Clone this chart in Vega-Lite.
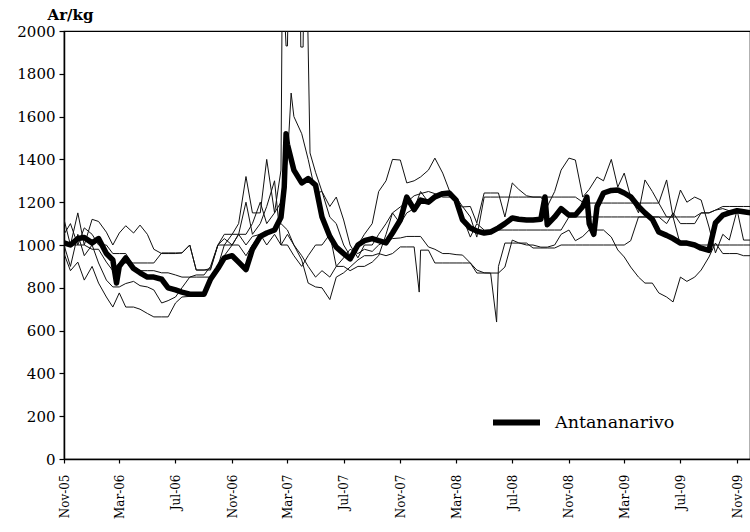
{
"$schema": "https://vega.github.io/schema/vega-lite/v6.json",
"width": 686, "height": 428,
"autosize": {"type": "none"},
"padding": {"left": 64, "top": 31, "right": 0, "bottom": 73},
"background": "white",
"config": {
 "font": "DejaVu Serif",
 "view": {"stroke": "black", "strokeWidth": 1.2},
 "axis": {"grid": false, "domainColor": "black", "domainWidth": 1.5, "tickColor": "black", "tickWidth": 1.2, "labelColor": "black", "titleColor": "black", "labelFont": "DejaVu Serif", "titleFont": "DejaVu Serif"},
 "legend": {"labelFont": "DejaVu Serif"}
},
"datasets": {
"main": [
{"d":"2005-11-01","v":1010},{"d":"2005-11-15","v":1000},{"d":"2005-12-01","v":1030},{"d":"2005-12-15","v":1035},
{"d":"2006-01-01","v":1010},{"d":"2006-01-15","v":1030},{"d":"2006-02-01","v":960},{"d":"2006-02-15","v":930},{"d":"2006-02-23","v":822},
{"d":"2006-03-01","v":900},{"d":"2006-03-15","v":940},{"d":"2006-04-01","v":890},{"d":"2006-04-15","v":870},{"d":"2006-05-01","v":850},{"d":"2006-05-15","v":850},
{"d":"2006-06-01","v":840},{"d":"2006-06-15","v":800},{"d":"2006-07-01","v":790},{"d":"2006-07-15","v":780},{"d":"2006-08-01","v":770},{"d":"2006-08-15","v":770},
{"d":"2006-09-01","v":770},{"d":"2006-09-15","v":840},{"d":"2006-10-01","v":890},{"d":"2006-10-15","v":940},{"d":"2006-11-01","v":950},{"d":"2006-11-15","v":920},
{"d":"2006-12-01","v":885},{"d":"2006-12-15","v":980},{"d":"2007-01-01","v":1040},{"d":"2007-01-15","v":1056},{"d":"2007-02-01","v":1070},{"d":"2007-02-15","v":1130},
{"d":"2007-02-22","v":1270},{"d":"2007-02-26","v":1520},{"d":"2007-03-01","v":1470},{"d":"2007-03-15","v":1350},{"d":"2007-04-01","v":1290},{"d":"2007-04-15","v":1310},
{"d":"2007-05-01","v":1280},{"d":"2007-05-15","v":1131},{"d":"2007-06-01","v":1040},{"d":"2007-06-15","v":990},{"d":"2007-07-01","v":960},{"d":"2007-07-15","v":935},
{"d":"2007-08-01","v":1000},{"d":"2007-08-15","v":1020},{"d":"2007-09-01","v":1030},{"d":"2007-09-15","v":1020},{"d":"2007-10-01","v":1010},{"d":"2007-10-15","v":1056},
{"d":"2007-11-01","v":1117},{"d":"2007-11-15","v":1224},{"d":"2007-12-01","v":1165},{"d":"2007-12-15","v":1210},{"d":"2008-01-01","v":1200},{"d":"2008-01-15","v":1225},
{"d":"2008-02-01","v":1240},{"d":"2008-02-15","v":1243},{"d":"2008-03-01","v":1210},{"d":"2008-03-15","v":1117},{"d":"2008-04-01","v":1079},{"d":"2008-04-15","v":1065},
{"d":"2008-05-01","v":1056},{"d":"2008-05-15","v":1061},{"d":"2008-06-01","v":1080},{"d":"2008-06-15","v":1100},{"d":"2008-07-01","v":1126},{"d":"2008-07-15","v":1120},
{"d":"2008-08-01","v":1117},{"d":"2008-08-15","v":1117},{"d":"2008-09-01","v":1120},{"d":"2008-09-10","v":1224},{"d":"2008-09-15","v":1095},{"d":"2008-10-01","v":1131},
{"d":"2008-10-15","v":1170},{"d":"2008-11-01","v":1140},{"d":"2008-11-15","v":1140},{"d":"2008-12-01","v":1180},{"d":"2008-12-10","v":1224},{"d":"2008-12-15","v":1100},
{"d":"2008-12-25","v":1050},{"d":"2009-01-01","v":1180},{"d":"2009-01-15","v":1243},{"d":"2009-02-01","v":1255},{"d":"2009-02-15","v":1257},{"d":"2009-03-01","v":1243},
{"d":"2009-03-15","v":1225},{"d":"2009-04-01","v":1180},{"d":"2009-04-15","v":1150},{"d":"2009-05-01","v":1120},{"d":"2009-05-15","v":1061},{"d":"2009-06-01","v":1045},
{"d":"2009-06-15","v":1030},{"d":"2009-07-01","v":1009},{"d":"2009-07-15","v":1009},{"d":"2009-08-01","v":1000},{"d":"2009-08-15","v":985},{"d":"2009-09-01","v":975},
{"d":"2009-09-15","v":1103},{"d":"2009-10-01","v":1140},{"d":"2009-10-15","v":1150},{"d":"2009-11-01","v":1160},{"d":"2009-11-15","v":1155},{"d":"2009-12-01","v":1150}
],
"thin": [
{"d":"2005-11-01","s":1,"v":1120},{"d":"2005-11-15","s":1,"v":1000},{"d":"2005-12-01","s":1,"v":1150},{"d":"2005-12-15","s":1,"v":1000},
{"d":"2006-01-01","s":1,"v":1120},{"d":"2006-01-15","s":1,"v":1110},{"d":"2006-02-01","s":1,"v":1060},{"d":"2006-02-15","s":1,"v":1000},
{"d":"2006-03-01","s":1,"v":1056},{"d":"2006-03-15","s":1,"v":1090},{"d":"2006-04-01","s":1,"v":1056},{"d":"2006-04-15","s":1,"v":1093},
{"d":"2006-05-01","s":1,"v":1050},{"d":"2006-05-15","s":1,"v":980},{"d":"2006-06-01","s":1,"v":960},{"d":"2006-06-15","s":1,"v":960},
{"d":"2006-07-01","s":1,"v":960},{"d":"2006-07-15","s":1,"v":963},{"d":"2006-08-01","s":1,"v":1000},{"d":"2006-08-15","s":1,"v":883},
{"d":"2006-09-01","s":1,"v":883},{"d":"2006-09-15","s":1,"v":890},{"d":"2006-10-01","s":1,"v":1000},{"d":"2006-10-15","s":1,"v":1050},
{"d":"2006-11-01","s":1,"v":1050},{"d":"2006-11-15","s":1,"v":1100},{"d":"2006-12-01","s":1,"v":1320},{"d":"2006-12-15","s":1,"v":1150},
{"d":"2007-01-01","s":1,"v":1150},{"d":"2007-01-15","s":1,"v":1400},{"d":"2007-02-01","s":1,"v":1150},{"d":"2007-02-15","s":1,"v":1350},
{"d":"2007-02-18","s":1,"v":2300},{"d":"2007-02-26","s":1,"v":1930},{"d":"2007-03-01","s":1,"v":1930},{"d":"2007-03-04","s":1,"v":2300},
{"d":"2007-03-15","s":1,"v":2300},{"d":"2007-03-28","s":1,"v":2300},{"d":"2007-03-30","s":1,"v":1925},{"d":"2007-04-04","s":1,"v":1925},
{"d":"2007-04-06","s":1,"v":2300},{"d":"2007-04-12","s":1,"v":2300},{"d":"2007-04-19","s":1,"v":1430},{"d":"2007-05-01","s":1,"v":1340},
{"d":"2007-05-15","s":1,"v":1250},{"d":"2007-06-01","s":1,"v":1130},{"d":"2007-06-15","s":1,"v":1100},{"d":"2007-07-01","s":1,"v":1000},
{"d":"2007-07-15","s":1,"v":950},{"d":"2007-08-01","s":1,"v":1000},{"d":"2007-08-15","s":1,"v":1050},{"d":"2007-09-01","s":1,"v":1100},
{"d":"2007-09-15","s":1,"v":1250},{"d":"2007-10-01","s":1,"v":1300},{"d":"2007-10-15","s":1,"v":1400},{"d":"2007-11-01","s":1,"v":1397},
{"d":"2007-11-15","s":1,"v":1290},{"d":"2007-12-01","s":1,"v":1300},{"d":"2007-12-15","s":1,"v":1318},{"d":"2008-01-01","s":1,"v":1350},
{"d":"2008-01-15","s":1,"v":1406},{"d":"2008-02-01","s":1,"v":1336},{"d":"2008-02-15","s":1,"v":1257},{"d":"2008-03-01","s":1,"v":1200},
{"d":"2008-03-15","s":1,"v":1178},{"d":"2008-04-01","s":1,"v":1180},{"d":"2008-04-15","s":1,"v":1103},{"d":"2008-05-01","s":1,"v":1243},
{"d":"2008-05-15","s":1,"v":1243},{"d":"2008-06-01","s":1,"v":1243},{"d":"2008-06-15","s":1,"v":1131},{"d":"2008-07-01","s":1,"v":1290},
{"d":"2008-07-15","s":1,"v":1260},{"d":"2008-08-01","s":1,"v":1230},{"d":"2008-08-15","s":1,"v":1224},{"d":"2008-09-01","s":1,"v":1224},
{"d":"2008-09-15","s":1,"v":1180},{"d":"2008-10-01","s":1,"v":1250},{"d":"2008-10-15","s":1,"v":1350},{"d":"2008-11-01","s":1,"v":1406},
{"d":"2008-11-15","s":1,"v":1397},{"d":"2008-12-01","s":1,"v":1224},{"d":"2008-12-15","s":1,"v":1260},{"d":"2009-01-01","s":1,"v":1318},
{"d":"2009-01-15","s":1,"v":1300},{"d":"2009-02-01","s":1,"v":1400},{"d":"2009-02-15","s":1,"v":1271},{"d":"2009-03-01","s":1,"v":1336},
{"d":"2009-03-15","s":1,"v":1224},{"d":"2009-04-01","s":1,"v":1150},{"d":"2009-04-15","s":1,"v":1304},{"d":"2009-05-01","s":1,"v":1250},
{"d":"2009-05-15","s":1,"v":1196},{"d":"2009-06-01","s":1,"v":1304},{"d":"2009-06-15","s":1,"v":1131},{"d":"2009-07-01","s":1,"v":1257},
{"d":"2009-07-15","s":1,"v":1200},{"d":"2009-08-01","s":1,"v":1224},{"d":"2009-08-15","s":1,"v":1210},{"d":"2009-09-01","s":1,"v":1084},
{"d":"2009-09-15","s":1,"v":963},{"d":"2009-10-01","s":1,"v":1050},{"d":"2009-10-15","s":1,"v":1023},{"d":"2009-11-01","s":1,"v":1163},
{"d":"2009-11-15","s":1,"v":1023},{"d":"2009-12-01","s":1,"v":1023},

{"d":"2005-11-01","s":2,"v":1000},{"d":"2005-11-15","s":2,"v":900},{"d":"2005-12-01","s":2,"v":1050},{"d":"2005-12-15","s":2,"v":950},
{"d":"2006-01-01","s":2,"v":1000},{"d":"2006-01-15","s":2,"v":916},{"d":"2006-02-01","s":2,"v":836},{"d":"2006-02-15","s":2,"v":804},
{"d":"2006-03-01","s":2,"v":804},{"d":"2006-03-15","s":2,"v":820},{"d":"2006-04-01","s":2,"v":830},{"d":"2006-04-15","s":2,"v":810},
{"d":"2006-05-01","s":2,"v":804},{"d":"2006-05-15","s":2,"v":790},{"d":"2006-06-01","s":2,"v":729},{"d":"2006-06-15","s":2,"v":740},
{"d":"2006-07-01","s":2,"v":757},{"d":"2006-07-15","s":2,"v":800},{"d":"2006-08-01","s":2,"v":850},{"d":"2006-08-15","s":2,"v":860},
{"d":"2006-09-01","s":2,"v":860},{"d":"2006-09-15","s":2,"v":900},{"d":"2006-10-01","s":2,"v":1000},{"d":"2006-10-15","s":2,"v":1030},
{"d":"2006-11-01","s":2,"v":1000},{"d":"2006-11-15","s":2,"v":1050},{"d":"2006-12-01","s":2,"v":1050},{"d":"2006-12-15","s":2,"v":1100},
{"d":"2007-01-01","s":2,"v":1200},{"d":"2007-01-15","s":2,"v":1100},{"d":"2007-02-01","s":2,"v":1150},{"d":"2007-02-15","s":2,"v":1200},
{"d":"2007-03-01","s":2,"v":1400},{"d":"2007-03-09","s":2,"v":1710},{"d":"2007-03-15","s":2,"v":1600},{"d":"2007-04-01","s":2,"v":1520},
{"d":"2007-04-15","s":2,"v":1400},{"d":"2007-05-01","s":2,"v":1243},{"d":"2007-05-15","s":2,"v":1250},{"d":"2007-06-01","s":2,"v":1180},
{"d":"2007-06-15","s":2,"v":1224},{"d":"2007-07-01","s":2,"v":1117},{"d":"2007-07-15","s":2,"v":1000},{"d":"2007-08-01","s":2,"v":940},
{"d":"2007-08-15","s":2,"v":1000},{"d":"2007-09-01","s":2,"v":1000},{"d":"2007-09-15","s":2,"v":1050},{"d":"2007-10-01","s":2,"v":1100},
{"d":"2007-10-15","s":2,"v":1150},{"d":"2007-11-01","s":2,"v":1178},{"d":"2007-11-15","s":2,"v":1200},{"d":"2007-12-01","s":2,"v":1230},
{"d":"2007-12-15","s":2,"v":1240},{"d":"2008-01-01","s":2,"v":1250},{"d":"2008-01-15","s":2,"v":1240},{"d":"2008-02-01","s":2,"v":1224},
{"d":"2008-02-15","s":2,"v":1224},{"d":"2008-03-01","s":2,"v":1224},{"d":"2008-03-15","s":2,"v":1180},{"d":"2008-04-01","s":2,"v":1131},
{"d":"2008-04-15","s":2,"v":1037},{"d":"2008-05-01","s":2,"v":1224},{"d":"2008-05-15","s":2,"v":1224},{"d":"2008-06-01","s":2,"v":1224},
{"d":"2008-06-15","s":2,"v":1224},{"d":"2008-07-01","s":2,"v":1224},{"d":"2008-07-15","s":2,"v":1224},{"d":"2008-08-01","s":2,"v":1224},
{"d":"2008-08-15","s":2,"v":1224},{"d":"2008-09-01","s":2,"v":1224},{"d":"2008-09-15","s":2,"v":1224},{"d":"2008-10-01","s":2,"v":1224},
{"d":"2008-10-15","s":2,"v":1224},{"d":"2008-11-01","s":2,"v":1224},{"d":"2008-11-15","s":2,"v":1224},{"d":"2008-12-01","s":2,"v":1200},
{"d":"2008-12-15","s":2,"v":1196},{"d":"2009-01-01","s":2,"v":1196},{"d":"2009-01-15","s":2,"v":1196},{"d":"2009-02-01","s":2,"v":1196},
{"d":"2009-02-15","s":2,"v":1196},{"d":"2009-03-01","s":2,"v":1196},{"d":"2009-03-15","s":2,"v":1196},{"d":"2009-04-01","s":2,"v":1196},
{"d":"2009-04-15","s":2,"v":1196},{"d":"2009-05-01","s":2,"v":1196},{"d":"2009-05-15","s":2,"v":1196},{"d":"2009-06-01","s":2,"v":1131},
{"d":"2009-06-15","s":2,"v":1131},{"d":"2009-07-01","s":2,"v":1131},{"d":"2009-07-15","s":2,"v":1131},{"d":"2009-08-01","s":2,"v":1131},
{"d":"2009-08-15","s":2,"v":1150},{"d":"2009-09-01","s":2,"v":1150},{"d":"2009-09-15","s":2,"v":1163},{"d":"2009-10-01","s":2,"v":1180},
{"d":"2009-10-15","s":2,"v":1180},{"d":"2009-11-01","s":2,"v":1180},{"d":"2009-11-15","s":2,"v":1180},{"d":"2009-12-01","s":2,"v":1180},

{"d":"2005-11-01","s":3,"v":960},{"d":"2005-11-15","s":3,"v":880},{"d":"2005-12-01","s":3,"v":920},{"d":"2005-12-15","s":3,"v":836},
{"d":"2006-01-01","s":3,"v":900},{"d":"2006-01-15","s":3,"v":822},{"d":"2006-02-01","s":3,"v":757},{"d":"2006-02-15","s":3,"v":710},
{"d":"2006-03-01","s":3,"v":776},{"d":"2006-03-15","s":3,"v":710},{"d":"2006-04-01","s":3,"v":710},{"d":"2006-04-15","s":3,"v":700},
{"d":"2006-05-01","s":3,"v":680},{"d":"2006-05-15","s":3,"v":664},{"d":"2006-06-01","s":3,"v":664},{"d":"2006-06-15","s":3,"v":664},
{"d":"2006-07-01","s":3,"v":729},{"d":"2006-07-15","s":3,"v":757},{"d":"2006-08-01","s":3,"v":760},{"d":"2006-08-15","s":3,"v":770},
{"d":"2006-09-01","s":3,"v":780},{"d":"2006-09-15","s":3,"v":820},{"d":"2006-10-01","s":3,"v":900},{"d":"2006-10-15","s":3,"v":950},
{"d":"2006-11-01","s":3,"v":1000},{"d":"2006-11-15","s":3,"v":1050},{"d":"2006-12-01","s":3,"v":1000},{"d":"2006-12-15","s":3,"v":1040},
{"d":"2007-01-01","s":3,"v":1050},{"d":"2007-01-15","s":3,"v":1056},{"d":"2007-02-01","s":3,"v":1080},{"d":"2007-02-15","s":3,"v":1100},
{"d":"2007-03-01","s":3,"v":1070},{"d":"2007-03-15","s":3,"v":1000},{"d":"2007-04-01","s":3,"v":930},{"d":"2007-04-15","s":3,"v":822},
{"d":"2007-05-01","s":3,"v":804},{"d":"2007-05-15","s":3,"v":800},{"d":"2007-06-01","s":3,"v":745},{"d":"2007-06-15","s":3,"v":850},
{"d":"2007-07-01","s":3,"v":870},{"d":"2007-07-15","s":3,"v":897},{"d":"2007-08-01","s":3,"v":930},{"d":"2007-08-15","s":3,"v":950},
{"d":"2007-09-01","s":3,"v":950},{"d":"2007-09-15","s":3,"v":960},{"d":"2007-10-01","s":3,"v":950},{"d":"2007-10-15","s":3,"v":960},
{"d":"2007-11-01","s":3,"v":991},{"d":"2007-11-15","s":3,"v":991},{"d":"2007-12-01","s":3,"v":991},{"d":"2007-12-12","s":3,"v":780},
{"d":"2007-12-15","s":3,"v":976},{"d":"2008-01-01","s":3,"v":976},{"d":"2008-01-15","s":3,"v":916},{"d":"2008-02-01","s":3,"v":916},
{"d":"2008-02-15","s":3,"v":916},{"d":"2008-03-01","s":3,"v":916},{"d":"2008-03-15","s":3,"v":916},{"d":"2008-04-01","s":3,"v":916},
{"d":"2008-04-15","s":3,"v":869},{"d":"2008-05-01","s":3,"v":869},{"d":"2008-05-15","s":3,"v":869},{"d":"2008-06-01","s":3,"v":869},
{"d":"2008-06-15","s":3,"v":897},{"d":"2008-07-01","s":3,"v":1023},{"d":"2008-07-15","s":3,"v":1010},{"d":"2008-08-01","s":3,"v":1000},
{"d":"2008-08-15","s":3,"v":1000},{"d":"2008-09-01","s":3,"v":990},{"d":"2008-09-15","s":3,"v":990},{"d":"2008-10-01","s":3,"v":1000},
{"d":"2008-10-15","s":3,"v":1050},{"d":"2008-11-01","s":3,"v":1070},{"d":"2008-11-15","s":3,"v":1020},{"d":"2008-12-01","s":3,"v":1040},
{"d":"2008-12-15","s":3,"v":1070},{"d":"2009-01-01","s":3,"v":1070},{"d":"2009-01-15","s":3,"v":1070},{"d":"2009-02-01","s":3,"v":1037},
{"d":"2009-02-15","s":3,"v":977},{"d":"2009-03-01","s":3,"v":944},{"d":"2009-03-15","s":3,"v":897},{"d":"2009-04-01","s":3,"v":850},
{"d":"2009-04-15","s":3,"v":822},{"d":"2009-05-01","s":3,"v":822},{"d":"2009-05-15","s":3,"v":776},{"d":"2009-06-01","s":3,"v":757},
{"d":"2009-06-15","s":3,"v":734},{"d":"2009-07-01","s":3,"v":850},{"d":"2009-07-15","s":3,"v":830},{"d":"2009-08-01","s":3,"v":850},
{"d":"2009-08-15","s":3,"v":883},{"d":"2009-09-01","s":3,"v":944},{"d":"2009-09-15","s":3,"v":1009},{"d":"2009-10-01","s":3,"v":960},
{"d":"2009-10-15","s":3,"v":960},{"d":"2009-11-01","s":3,"v":960},{"d":"2009-11-15","s":3,"v":950},{"d":"2009-12-01","s":3,"v":950},

{"d":"2005-11-01","s":4,"v":1000},{"d":"2005-11-15","s":4,"v":1000},{"d":"2005-12-01","s":4,"v":1000},{"d":"2005-12-15","s":4,"v":1000},
{"d":"2006-01-01","s":4,"v":980},{"d":"2006-01-15","s":4,"v":980},{"d":"2006-02-01","s":4,"v":920},{"d":"2006-02-15","s":4,"v":880},
{"d":"2006-03-01","s":4,"v":916},{"d":"2006-03-15","s":4,"v":916},{"d":"2006-04-01","s":4,"v":916},{"d":"2006-04-15","s":4,"v":916},
{"d":"2006-05-01","s":4,"v":916},{"d":"2006-05-15","s":4,"v":916},{"d":"2006-06-01","s":4,"v":963},{"d":"2006-06-15","s":4,"v":963},
{"d":"2006-07-01","s":4,"v":963},{"d":"2006-07-15","s":4,"v":963},{"d":"2006-08-01","s":4,"v":1000},{"d":"2006-08-15","s":4,"v":883},
{"d":"2006-09-01","s":4,"v":883},{"d":"2006-09-15","s":4,"v":883},{"d":"2006-10-01","s":4,"v":1000},{"d":"2006-10-15","s":4,"v":1000},
{"d":"2006-11-01","s":4,"v":1000},{"d":"2006-11-15","s":4,"v":1000},{"d":"2006-12-01","s":4,"v":950},{"d":"2006-12-15","s":4,"v":1000},
{"d":"2007-01-01","s":4,"v":1050},{"d":"2007-01-15","s":4,"v":1000},{"d":"2007-02-01","s":4,"v":1050},{"d":"2007-02-15","s":4,"v":1000},
{"d":"2007-03-01","s":4,"v":1050},{"d":"2007-03-15","s":4,"v":1000},{"d":"2007-04-01","s":4,"v":950},{"d":"2007-04-15","s":4,"v":900},
{"d":"2007-05-01","s":4,"v":850},{"d":"2007-05-15","s":4,"v":880},{"d":"2007-06-01","s":4,"v":850},{"d":"2007-06-15","s":4,"v":900},
{"d":"2007-07-01","s":4,"v":940},{"d":"2007-07-15","s":4,"v":980},{"d":"2007-08-01","s":4,"v":960},{"d":"2007-08-15","s":4,"v":980},
{"d":"2007-09-01","s":4,"v":970},{"d":"2007-09-15","s":4,"v":1000},{"d":"2007-10-01","s":4,"v":1020},{"d":"2007-10-15","s":4,"v":1030},
{"d":"2007-11-01","s":4,"v":1033},{"d":"2007-11-15","s":4,"v":1040},{"d":"2007-12-01","s":4,"v":1040},{"d":"2007-12-15","s":4,"v":1040},
{"d":"2008-01-01","s":4,"v":991},{"d":"2008-01-15","s":4,"v":980},{"d":"2008-02-01","s":4,"v":960},{"d":"2008-02-15","s":4,"v":960},
{"d":"2008-03-01","s":4,"v":955},{"d":"2008-03-15","s":4,"v":953},{"d":"2008-04-01","s":4,"v":916},{"d":"2008-04-15","s":4,"v":883},
{"d":"2008-05-01","s":4,"v":870},{"d":"2008-05-15","s":4,"v":869},{"d":"2008-05-28","s":4,"v":640},{"d":"2008-06-01","s":4,"v":900},
{"d":"2008-06-15","s":4,"v":1009},{"d":"2008-07-01","s":4,"v":1009},{"d":"2008-07-15","s":4,"v":1009},{"d":"2008-08-01","s":4,"v":1009},
{"d":"2008-08-15","s":4,"v":986},{"d":"2008-09-01","s":4,"v":986},{"d":"2008-09-15","s":4,"v":986},{"d":"2008-10-01","s":4,"v":986},
{"d":"2008-10-15","s":4,"v":1000},{"d":"2008-11-01","s":4,"v":1000},{"d":"2008-11-15","s":4,"v":1000},{"d":"2008-12-01","s":4,"v":1000},
{"d":"2008-12-15","s":4,"v":1000},{"d":"2009-01-01","s":4,"v":1000},{"d":"2009-01-15","s":4,"v":1000},{"d":"2009-02-01","s":4,"v":1000},
{"d":"2009-02-15","s":4,"v":1000},{"d":"2009-03-01","s":4,"v":1000},{"d":"2009-03-15","s":4,"v":1020},{"d":"2009-04-01","s":4,"v":1131},
{"d":"2009-04-15","s":4,"v":1131},{"d":"2009-05-01","s":4,"v":1131},{"d":"2009-05-15","s":4,"v":1131},{"d":"2009-06-01","s":4,"v":1131},
{"d":"2009-06-15","s":4,"v":1131},{"d":"2009-07-01","s":4,"v":1000},{"d":"2009-07-15","s":4,"v":1000},{"d":"2009-08-01","s":4,"v":1000},
{"d":"2009-08-15","s":4,"v":1000},{"d":"2009-09-01","s":4,"v":1000},{"d":"2009-09-15","s":4,"v":1000},{"d":"2009-10-01","s":4,"v":1000},
{"d":"2009-10-15","s":4,"v":1000},{"d":"2009-11-01","s":4,"v":1000},{"d":"2009-11-15","s":4,"v":1000},{"d":"2009-12-01","s":4,"v":1000},

{"d":"2005-11-01","s":5,"v":1050},{"d":"2005-11-15","s":5,"v":1100},{"d":"2005-12-01","s":5,"v":1000},{"d":"2005-12-15","s":5,"v":1080},
{"d":"2006-01-01","s":5,"v":1050},{"d":"2006-01-15","s":5,"v":1000},{"d":"2006-02-01","s":5,"v":1000},{"d":"2006-02-15","s":5,"v":960},
{"d":"2006-03-01","s":5,"v":960},{"d":"2006-03-15","s":5,"v":960},{"d":"2006-04-01","s":5,"v":900},{"d":"2006-04-15","s":5,"v":880},
{"d":"2006-05-01","s":5,"v":880},{"d":"2006-05-15","s":5,"v":880},{"d":"2006-06-01","s":5,"v":870},{"d":"2006-06-15","s":5,"v":870},
{"d":"2006-07-01","s":5,"v":860},{"d":"2006-07-15","s":5,"v":850},{"d":"2006-08-01","s":5,"v":850},{"d":"2006-08-15","s":5,"v":850},
{"d":"2006-09-01","s":5,"v":850},{"d":"2006-09-15","s":5,"v":850},{"d":"2006-10-01","s":5,"v":900},{"d":"2006-10-15","s":5,"v":1000},
{"d":"2006-11-01","s":5,"v":1050},{"d":"2006-11-15","s":5,"v":1050},{"d":"2006-12-01","s":5,"v":1200},{"d":"2006-12-15","s":5,"v":1050},
{"d":"2007-01-01","s":5,"v":1100},{"d":"2007-01-15","s":5,"v":1180},{"d":"2007-02-01","s":5,"v":1300},{"d":"2007-02-15","s":5,"v":1000},
{"d":"2007-03-01","s":5,"v":1000},{"d":"2007-03-15","s":5,"v":950},{"d":"2007-04-01","s":5,"v":900},{"d":"2007-04-15","s":5,"v":950},
{"d":"2007-05-01","s":5,"v":1000},{"d":"2007-05-15","s":5,"v":1000},{"d":"2007-06-01","s":5,"v":1050},{"d":"2007-06-15","s":5,"v":900},
{"d":"2007-07-01","s":5,"v":900},{"d":"2007-07-15","s":5,"v":880},{"d":"2007-08-01","s":5,"v":900},{"d":"2007-08-15","s":5,"v":900},
{"d":"2007-09-01","s":5,"v":920},{"d":"2007-09-15","s":5,"v":950},{"d":"2007-10-01","s":5,"v":1050},{"d":"2007-10-15","s":5,"v":1150},
{"d":"2007-11-01","s":5,"v":1100},{"d":"2007-11-15","s":5,"v":1150},{"d":"2007-12-01","s":5,"v":1170},{"d":"2007-12-15","s":5,"v":1250},
{"d":"2008-01-01","s":5,"v":1200},{"d":"2008-01-15","s":5,"v":1220},{"d":"2008-02-01","s":5,"v":1240},{"d":"2008-02-15","s":5,"v":1240},
{"d":"2008-03-01","s":5,"v":1224},{"d":"2008-03-15","s":5,"v":1131},{"d":"2008-04-01","s":5,"v":1037},{"d":"2008-04-15","s":5,"v":1100},
{"d":"2008-05-01","s":5,"v":1070},{"d":"2008-05-15","s":5,"v":1070},{"d":"2008-06-01","s":5,"v":1070},{"d":"2008-06-15","s":5,"v":1070},
{"d":"2008-07-01","s":5,"v":1070},{"d":"2008-07-15","s":5,"v":1070},{"d":"2008-08-01","s":5,"v":1070},{"d":"2008-08-15","s":5,"v":1070},
{"d":"2008-09-01","s":5,"v":1070},{"d":"2008-09-15","s":5,"v":1070},{"d":"2008-10-01","s":5,"v":1070},{"d":"2008-10-15","s":5,"v":1070},
{"d":"2008-11-01","s":5,"v":1131},{"d":"2008-11-15","s":5,"v":1131},{"d":"2008-12-01","s":5,"v":1131},{"d":"2008-12-15","s":5,"v":1131},
{"d":"2009-01-01","s":5,"v":1131},{"d":"2009-01-15","s":5,"v":1131},{"d":"2009-02-01","s":5,"v":1131},{"d":"2009-02-15","s":5,"v":1131},
{"d":"2009-03-01","s":5,"v":1131},{"d":"2009-03-15","s":5,"v":1131},{"d":"2009-04-01","s":5,"v":1131},{"d":"2009-04-15","s":5,"v":1131},
{"d":"2009-05-01","s":5,"v":1131},{"d":"2009-05-15","s":5,"v":1131},{"d":"2009-06-01","s":5,"v":1100},{"d":"2009-06-15","s":5,"v":1150},
{"d":"2009-07-01","s":5,"v":1100},{"d":"2009-07-15","s":5,"v":1100},{"d":"2009-08-01","s":5,"v":1100},{"d":"2009-08-15","s":5,"v":1150},
{"d":"2009-09-01","s":5,"v":1150},{"d":"2009-09-15","s":5,"v":1163},{"d":"2009-10-01","s":5,"v":1170},{"d":"2009-10-15","s":5,"v":1160},
{"d":"2009-11-01","s":5,"v":1160},{"d":"2009-11-15","s":5,"v":1160},{"d":"2009-12-01","s":5,"v":1160}
]
},
"encoding": {
 "x": {"field": "d", "type": "temporal",
  "scale": {"type": "utc", "domain": [{"year": 2005, "month": 11, "date": 1, "utc": true}, {"year": 2009, "month": 11, "date": 29, "utc": true}]},
  "axis": {"title": null, "format": "%b-%y", "labelAngle": -90, "labelFontSize": 12, "labelPadding": 11, "tickSize": 4,
   "values": [
    {"year": 2005, "month": 11, "date": 1, "utc": true},
    {"year": 2006, "month": 3, "date": 1, "utc": true},
    {"year": 2006, "month": 7, "date": 1, "utc": true},
    {"year": 2006, "month": 11, "date": 1, "utc": true},
    {"year": 2007, "month": 3, "date": 1, "utc": true},
    {"year": 2007, "month": 7, "date": 1, "utc": true},
    {"year": 2007, "month": 11, "date": 1, "utc": true},
    {"year": 2008, "month": 3, "date": 1, "utc": true},
    {"year": 2008, "month": 7, "date": 1, "utc": true},
    {"year": 2008, "month": 11, "date": 1, "utc": true},
    {"year": 2009, "month": 3, "date": 1, "utc": true},
    {"year": 2009, "month": 7, "date": 1, "utc": true},
    {"year": 2009, "month": 11, "date": 1, "utc": true}
   ]}},
 "y": {"field": "v", "type": "quantitative",
  "scale": {"domain": [0, 2000], "nice": false, "zero": true},
  "axis": {"title": "Ar/kg", "titleAngle": 0, "titleFontWeight": "bold", "titleFontSize": 15, "titleAlign": "left", "titleBaseline": "alphabetic", "titleX": -17, "titleY": -12,
   "format": "d",
   "values": [0, 200, 400, 600, 800, 1000, 1200, 1400, 1600, 1800, 2000], "labelFontSize": 15, "labelPadding": 4, "tickSize": 5}}
},
"layer": [
 {"data": {"name": "thin"},
  "mark": {"type": "line", "clip": true, "color": "#111111", "strokeWidth": 1},
  "encoding": {"detail": {"field": "s", "type": "nominal"}}},
 {"data": {"name": "main"},
  "mark": {"type": "line", "clip": true, "strokeWidth": 5.5, "strokeJoin": "round", "strokeCap": "round"},
  "encoding": {"color": {"datum": "Antananarivo", "type": "nominal", "scale": {"range": ["black"]},
   "legend": {"title": null, "orient": "none", "legendX": 426, "legendY": 365, "padding": 0, "symbolType": "stroke", "symbolSize": 2209, "symbolStrokeWidth": 6, "labelFontSize": 17.5, "labelOffset": 12, "labelColor": "black"}}}}
]
}
